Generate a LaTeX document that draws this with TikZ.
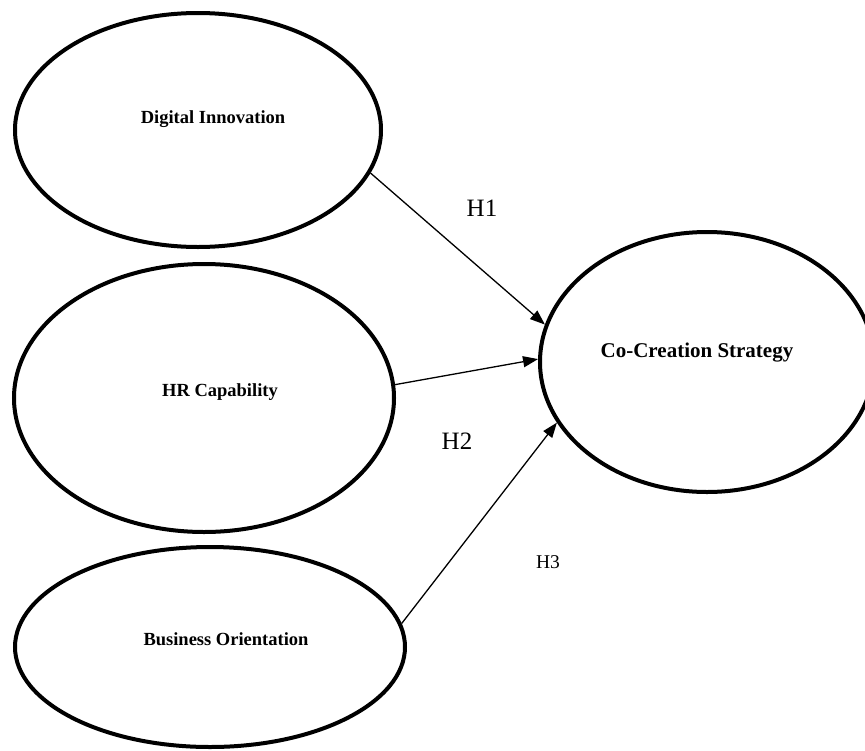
\documentclass[tikz,border=0pt]{standalone}
\usepackage{fontspec}
\setmainfont{Liberation Serif}
\usetikzlibrary{shapes.geometric,arrows.meta}
\begin{document}
\begin{tikzpicture}[x=1pt,y=-1pt,
  construct/.style={ellipse,draw,line width=4pt,inner sep=0pt},
  lbl/.style={anchor=base,inner sep=0pt,font=\fontsize{18.5}{20}\selectfont\bfseries},
  hyp/.style={anchor=base,inner sep=0pt},
  hpath/.style={line width=1.3pt,-{Triangle[length=15pt,width=11pt]}}]
\useasboundingbox (0,0) rectangle (865,750);
\node[construct,minimum width=366pt,minimum height=234pt] (di) at (198,130) {};
\node[construct,minimum width=380pt,minimum height=268pt] (hr) at (204,398) {};
\node[construct,minimum width=390pt,minimum height=200pt] (bo) at (210,647) {};
\node[construct,minimum width=334pt,minimum height=260pt] (cc) at (707,362) {};
\node[lbl] (tdi) at (213,123) {Digital Innovation};
\node[lbl] (thr) at (220,396) {HR Capability};
\node[lbl] (tbo) at (226,645) {Business Orientation};
\node[lbl,font=\fontsize{21}{23}\selectfont\bfseries] (tcc) at (697,357) {Co-Creation Strategy};
\draw[hpath] (di.-14.5) -- (cc.167.4);
\draw[hpath] (hr.4.4) -- (cc.179.3);
\draw[hpath] (bo.7.1) -- (cc.202.8);
\node[hyp,font=\fontsize{25}{28}\selectfont] (h1) at (482,216) {H1};
\node[hyp,font=\fontsize{25}{28}\selectfont] (h2) at (457,449) {H2};
\node[hyp,font=\fontsize{19.5}{22}\selectfont] (h3) at (548,568) {H3};
\end{tikzpicture}
\end{document}
